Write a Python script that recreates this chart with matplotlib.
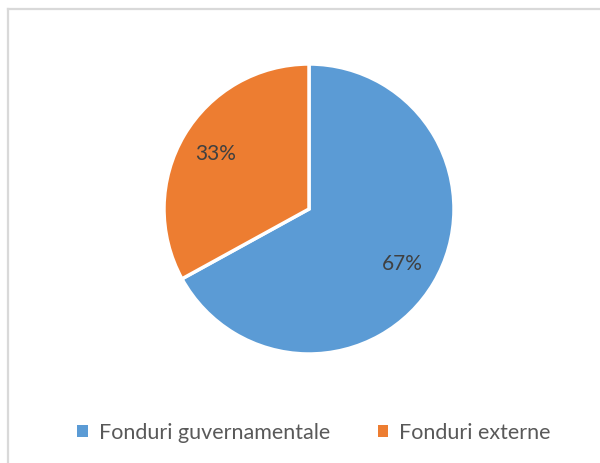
import matplotlib.pyplot as plt
from matplotlib.lines import Line2D
from matplotlib.patches import Patch

plt.rcParams['font.family'] = ['Lato', 'DejaVu Sans']

# date
categorii = ["Fonduri guvernamentale", "Fonduri externe"]
valori = [67, 33]
culori = ["#5B9BD5", "#ED7D31"]

W, H = 600, 463
fig = plt.figure(figsize=(W / 100, H / 100), dpi=100)

# rama gri (stanga + sus)
fig.add_artist(Line2D([8 / W, 8 / W], [0, 1 - 9 / H], color="#d9d9d9", lw=1.6, transform=fig.transFigure))
fig.add_artist(Line2D([8 / W, 1], [1 - 9 / H, 1 - 9 / H], color="#d9d9d9", lw=1.6, transform=fig.transFigure))

cx, cy, r = 309, 209, 145
ax = fig.add_axes([(cx - r) / W, (H - cy - r) / H, 2 * r / W, 2 * r / H])
wedges, texts, autotexts = ax.pie(
    valori, colors=culori, startangle=90, counterclock=False,
    autopct=lambda p: f"{p:.0f}%", pctdistance=0.75,
    wedgeprops=dict(edgecolor="white", linewidth=2.5),
    textprops=dict(color="#404040", fontsize=15),
)
ax.set_xlim(-1, 1)
ax.set_ylim(-1, 1)
ax.set_aspect("equal")
ax.axis("off")

handles = [Patch(facecolor=c, edgecolor="none") for c in culori]
fig.legend(handles, categorii, loc="center", bbox_to_anchor=(314 / W, 1 - 433 / H),
           ncol=2, frameon=False, fontsize=15.5, labelcolor="#595959",
           handlelength=0.5, handleheight=0.5, handletextpad=0.5, columnspacing=2.2)

fig.savefig("out.png", dpi=100)
